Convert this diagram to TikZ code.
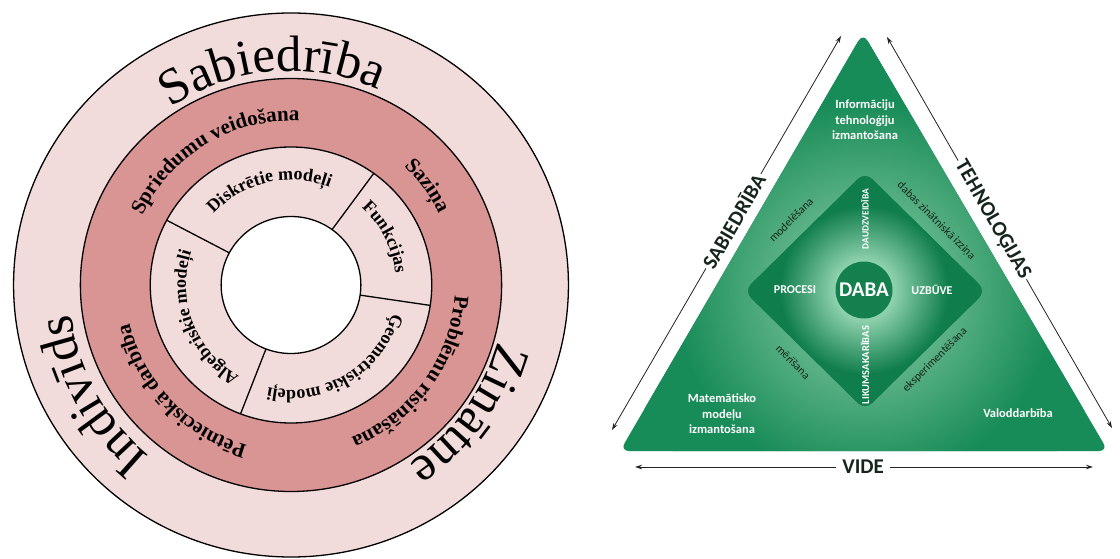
\documentclass[tikz,border=0pt]{standalone}
\usepackage{fontspec}
\setmainfont{Liberation Serif}
\newfontfamily\carlito{Carlito}
\usetikzlibrary{decorations.text,arrows.meta}
\definecolor{pinkL}{RGB}{242,220,219}
\definecolor{pinkD}{RGB}{217,149,148}
\definecolor{trig}{RGB}{24,140,88}
\definecolor{dia}{RGB}{16,126,76}
\definecolor{glow}{RGB}{92,178,134}
\definecolor{coreglow}{RGB}{140,208,172}
\definecolor{dabac}{RGB}{20,128,78}
\definecolor{darkt}{RGB}{22,38,28}
\definecolor{arrowc}{RGB}{35,35,35}
\pgfdeclareradialshading{halo}{\pgfpoint{0bp}{0bp}}{color(0bp)=(glow); color(8.5bp)=(glow); color(19bp)=(trig); color(50bp)=(trig)}
\pgfdeclareradialshading{core}{\pgfpoint{0bp}{0bp}}{color(0bp)=(coreglow); color(5bp)=(coreglow); color(14bp)=(dia); color(50bp)=(dia)}
\newcommand\ArcTxt[5]{%
  \path[decorate, decoration={text along path, text align=center, text={|#4|#5}}]
    (C) ++(#1+#3:#2) arc[start angle=#1+#3, end angle=#1-#3, radius=#2];}
\begin{document}
\begin{tikzpicture}[x=1pt,y=1pt,
  ring/.style={draw=black, line width=1.3pt},
  arr/.style={draw=arrowc, line width=0.8pt, {Stealth[length=7pt,width=4.5pt]}-{Stealth[length=7pt,width=4.5pt]}},
  sidelab/.style={fill=white, inner sep=2pt, text=darkt, font=\carlito\bfseries\fontsize{21pt}{21pt}\selectfont},
  wlab/.style={text=white, inner sep=0pt, align=center, font=\carlito\bfseries\fontsize{12.5pt}{15.5pt}\selectfont},
  dlab/.style={text=darkt, inner sep=0pt, font=\carlito\fontsize{11.5pt}{12pt}\selectfont},
  caplab/.style={text=white, inner sep=0pt, font=\carlito\bfseries\fontsize{12pt}{12pt}\selectfont}
]
\useasboundingbox (0,0) rectangle (1120,558);
\fill[white] (0,0) rectangle (1120,558);
% ---------------- left: rings ----------------
\coordinate (C) at (291,273);
\begin{scope}[shift={(C)}, xscale=1.02]
  \filldraw[ring, fill=pinkL] (0,0) circle[radius=272pt];
  \filldraw[ring, fill=pinkD] (0,0) circle[radius=206.5pt];
  \filldraw[ring, fill=pinkL] (0,0) circle[radius=138pt];
  \filldraw[ring, fill=white] (0,0) circle[radius=68.5pt];
  \foreach \a in {152,54,-8.5,-111} \draw[ring] (\a:68.5pt) -- (\a:138pt);
\end{scope}
\ArcTxt{95}{214pt}{80}{\fontsize{51pt}{51pt}\selectfont}{Sabiedrība}
\ArcTxt{-36}{214pt}{80}{\fontsize{51pt}{51pt}\selectfont}{Zinātne}
\ArcTxt{209}{222pt}{80}{\fontsize{51pt}{51pt}\selectfont}{Indivīds}
\ArcTxt{121}{164pt}{80}{\bfseries\fontsize{21pt}{21pt}\selectfont}{Spriedumu veidošana}
\ArcTxt{36}{164pt}{60}{\bfseries\fontsize{21pt}{21pt}\selectfont}{Saziņa}
\ArcTxt{-36}{164pt}{80}{\bfseries\fontsize{21pt}{21pt}\selectfont}{Problēmu risināšana}
\ArcTxt{224}{166pt}{80}{\bfseries\fontsize{21pt}{21pt}\selectfont}{Pētnieciskā darbība}
\ArcTxt{103}{105pt}{80}{\bfseries\fontsize{18pt}{18pt}\selectfont}{Diskrētie modeļi}
\ArcTxt{27}{105pt}{60}{\bfseries\fontsize{18pt}{18pt}\selectfont}{Funkcijas}
\ArcTxt{-59}{105pt}{80}{\bfseries\fontsize{18pt}{18pt}\selectfont}{Ģeometriskie modeļi}
\ArcTxt{201}{105pt}{80}{\bfseries\fontsize{18pt}{18pt}\selectfont}{Algebriskie modeļi}
% ---------------- right: triangle ----------------
\coordinate (Tt) at (863,525);
\coordinate (Tl) at (620,107);
\coordinate (Tr) at (1108,107);
\fill[trig, rounded corners=9pt] (Tl) -- (Tt) -- (Tr) -- cycle;
\begin{scope}
  \clip[rounded corners=9pt] (Tl) -- (Tt) -- (Tr) -- cycle;
  \shade[shading=halo] (865,267) circle[radius=250pt];
\end{scope}
\coordinate (Dl) at (744,267);
\coordinate (Dt) at (865,386);
\coordinate (Dr) at (986,267);
\coordinate (Db) at (865,148);
\fill[dia, rounded corners=10pt] (Dl) -- (Dt) -- (Dr) -- (Db) -- cycle;
\begin{scope}
  \clip[rounded corners=10pt] (Dl) -- (Dt) -- (Dr) -- (Db) -- cycle;
  \shade[shading=core] (864,268) circle[radius=150pt];
\end{scope}
\node[circle, fill=dabac, minimum size=57pt, inner sep=0pt] (daba) at (864,268) {};
\node[text=white, inner sep=0pt, font=\carlito\bfseries\fontsize{21pt}{21pt}\selectfont] (dabat) at (daba) {DABA};
\node[caplab] (procesi) at (795,268) {PROCESI};
\node[caplab] (uzbuve) at (932,268) {UZBŪVE};
\node[caplab, rotate=90, font=\carlito\bfseries\fontsize{9.5pt}{10pt}\selectfont] (daudz) at (865,339) {DAUDZVEIDĪBA};
\node[caplab, rotate=90, font=\carlito\bfseries\fontsize{10.5pt}{11pt}\selectfont] (likum) at (865,193) {LIKUMSAKARĪBAS};
\node[dlab, rotate=45] (model) at (791,338) {modelēšana};
\node[dlab, rotate=-45] (izz) at (936,337) {dabas zinātniskā izziņa};
\node[dlab, rotate=-45] (meris) at (793,196) {mērīšana};
\node[dlab, rotate=45] (eksp) at (935,198) {eksperimentēšana};
\node[wlab] (info) at (865,438) {Informāciju\\tehnoloģiju\\izmantošana};
\node[wlab] (mat) at (722,144) {Matemātisko\\modeļu\\izmantošana};
\node[wlab] (valod) at (1018,145) {Valoddarbība};
% arrows
\coordinate (La) at (612,128);
\coordinate (Lb) at (841,522);
\coordinate (Ra) at (887,521);
\coordinate (Rb) at (1112,130);
\coordinate (Ba) at (635,91);
\coordinate (Bb) at (1093,91);
\draw[arr] (La) -- node[sidelab, sloped, pos=0.53] (sab) {SABIEDRĪBA} (Lb);
\draw[arr] (Ra) -- node[sidelab, sloped, pos=0.468] (teh) {TEHNOLOĢIJAS} (Rb);
\draw[arr] (Ba) -- node[sidelab, pos=0.498, inner xsep=6pt] (vide) {VIDE} (Bb);
\end{tikzpicture}
\end{document}
